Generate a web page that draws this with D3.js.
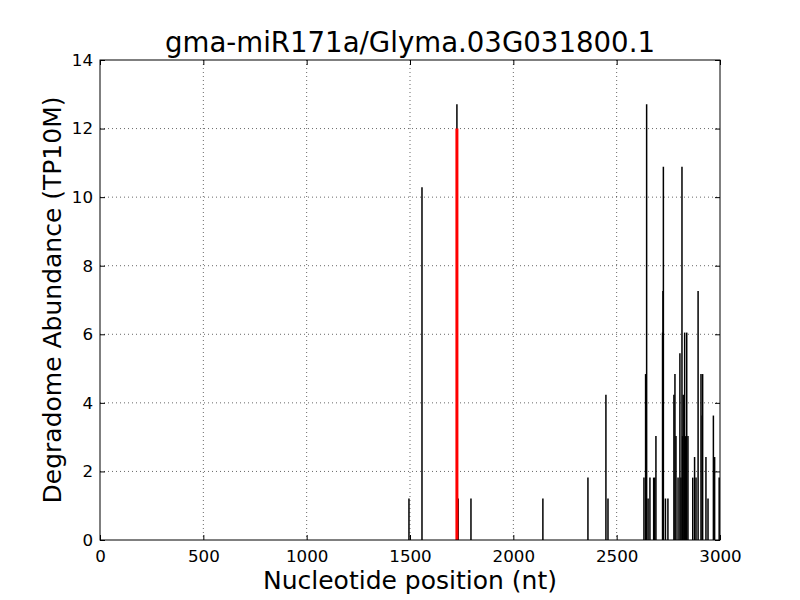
<!DOCTYPE html>
<html>
<head>
<meta charset="utf-8">
<script src="https://cdn.jsdelivr.net/npm/d3@7"></script>
<style>
  html, body { margin: 0; padding: 0; background: #ffffff; }
  svg { display: block; }
  text { font-family: "DejaVu Sans", sans-serif; fill: #000; }
</style>
</head>
<body>
<svg id="chart" width="800" height="600"></svg>
<script>
// ---- data ----
const titleText = "gma-miR171a/Glyma.03G031800.1";
const xLabel = "Nucleotide position (nt)";
const yLabel = "Degradome Abundance (TP10M)";

const positions = [1495, 1558, 1727, 1733, 1795, 2143, 2361, 2448, 2458,
  2632, 2640, 2645, 2652, 2661, 2679, 2684, 2690,
  2722, 2724, 2726, 2736, 2748,
  2777, 2782, 2787, 2797, 2806, 2811, 2816, 2819, 2822, 2829, 2834, 2839, 2845,
  2868, 2877, 2884, 2894, 2908, 2914, 2916, 2932, 2942, 2968, 2974, 2996];
const abundances = [1.21, 10.29, 12.71, 1.21, 1.21, 1.21, 1.82, 4.24, 1.21,
  1.82, 4.84, 12.71, 1.21, 1.82, 1.82, 1.82, 3.03,
  6.05, 7.26, 10.89, 1.21, 1.21,
  4.24, 4.84, 3.03, 1.82, 5.45, 1.82, 10.89, 3.03, 4.24, 6.05, 3.03, 6.05, 3.03,
  1.82, 2.42, 1.82, 7.26, 4.84, 3.63, 4.84, 2.42, 1.21, 3.63, 2.42, 1.82];

const targetPositions = [1727];
const targetAbundances = [12.0];

const xTicks = [0, 500, 1000, 1500, 2000, 2500, 3000];
const yTicks = [0, 2, 4, 6, 8, 10, 12, 14];

// ---- layout ----
(function () {
const svg = d3.select("#chart");
const mL = 100, mR = 720, mT = 60, mB = 540;

const x = d3.scaleLinear().domain([0, 3000]).range([mL, mR]);
const y = d3.scaleLinear().domain([0, 14]).range([mB, mT]);

// grid
const grid = svg.append("g");
grid.selectAll(".gx").data(xTicks.slice(1, -1)).enter().append("line")
  .attr("x1", d => x(d)).attr("x2", d => x(d))
  .attr("y1", mT).attr("y2", mB)
  .attr("stroke", "#000").attr("stroke-width", 0.6).attr("stroke-dasharray", "1,3");
grid.selectAll(".gy").data(yTicks.slice(1, -1)).enter().append("line")
  .attr("x1", mL).attr("x2", mR)
  .attr("y1", d => y(d)).attr("y2", d => y(d))
  .attr("stroke", "#000").attr("stroke-width", 0.6).attr("stroke-dasharray", "1,3");

// bars (vlines)
const pts = positions.map((p, i) => ({p: p, v: abundances[i]}));
svg.append("g").selectAll("line").data(pts).enter().append("line")
  .attr("x1", d => x(d.p)).attr("x2", d => x(d.p))
  .attr("y1", y(0)).attr("y2", d => y(d.v))
  .attr("stroke", "#000").attr("stroke-width", 1.5);

const tpts = targetPositions.map((p, i) => ({p: p, v: targetAbundances[i]}));
svg.append("g").selectAll("line").data(tpts).enter().append("line")
  .attr("x1", d => x(d.p)).attr("x2", d => x(d.p))
  .attr("y1", y(0)).attr("y2", d => y(d.v))
  .attr("stroke", "#ff0000").attr("stroke-width", 3);

// axes
const fmt = d3.format("d");
const xAxis = d3.axisBottom(x).tickValues(xTicks).tickFormat(fmt).tickSizeInner(-5).tickSizeOuter(0).tickPadding(10);
const yAxis = d3.axisLeft(y).tickValues(yTicks).tickFormat(fmt).tickSizeInner(-5).tickSizeOuter(0).tickPadding(7);
const xTop = d3.axisTop(x).tickValues(xTicks).tickFormat("").tickSizeInner(-5).tickSizeOuter(0);
const yRight = d3.axisRight(y).tickValues(yTicks).tickFormat("").tickSizeInner(-5).tickSizeOuter(0);

const gx = svg.append("g").attr("transform", `translate(0,${mB})`).call(xAxis);
const gy = svg.append("g").attr("transform", `translate(${mL},0)`).call(yAxis);
const gxt = svg.append("g").attr("transform", `translate(0,${mT})`).call(xTop);
const gyr = svg.append("g").attr("transform", `translate(${mR},0)`).call(yRight);
[gx, gy, gxt, gyr].forEach(g => {
  g.select(".domain").remove();
  g.selectAll(".tick line").attr("stroke", "#000").attr("stroke-width", 1);
  g.selectAll(".tick text").attr("font-family", "DejaVu Sans").attr("font-size", 16.7).attr("fill", "#000");
});

// frame
svg.append("rect").attr("x", mL).attr("y", mT)
  .attr("width", mR - mL).attr("height", mB - mT)
  .attr("fill", "none").attr("stroke", "#000").attr("stroke-width", 1);

// title & labels
svg.append("text").attr("x", (mL + mR) / 2).attr("y", 52)
  .attr("text-anchor", "middle").attr("font-size", 27.6).text(titleText);
svg.append("text").attr("x", (mL + mR) / 2).attr("y", 589)
  .attr("text-anchor", "middle").attr("font-size", 25).text(xLabel);
svg.append("text").attr("transform", `translate(61,${(mT + mB) / 2}) rotate(-90)`)
  .attr("text-anchor", "middle").attr("font-size", 25).text(yLabel);
})();
</script>
</body>
</html>
